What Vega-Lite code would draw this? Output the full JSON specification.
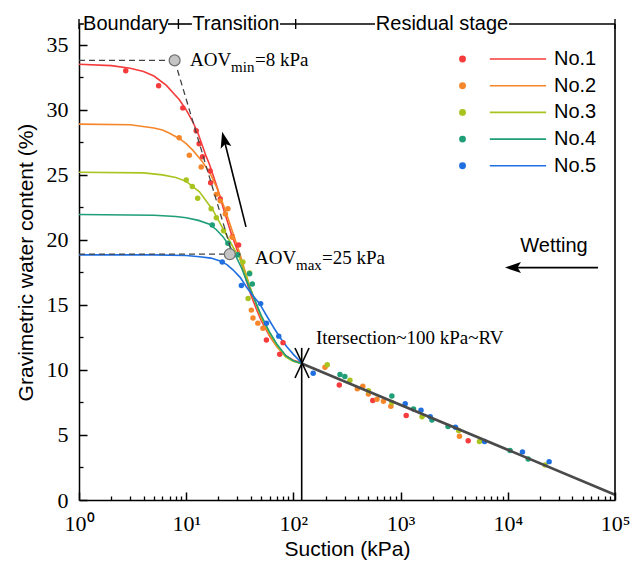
{
  "$schema": "https://vega.github.io/schema/vega-lite/v6.json",
  "width": 536,
  "height": 476,
  "autosize": "none",
  "padding": {"left": 79, "top": 24, "right": 26, "bottom": 67},
  "background": "white",
  "config": {"view": {"stroke": null}},
  "datasets": {
    "curves": [
      {"series":"No.1","s":1,"w":33.5},{"series":"No.1","s":2,"w":33.4},{"series":"No.1","s":3,"w":33.2},{"series":"No.1","s":4,"w":32.95},{"series":"No.1","s":5,"w":32.6},{"series":"No.1","s":6.5,"w":31.9},{"series":"No.1","s":8.6,"w":30.8},{"series":"No.1","s":10,"w":30.0},{"series":"No.1","s":11.5,"w":29.1},{"series":"No.1","s":13,"w":28.1},{"series":"No.1","s":15.4,"w":26.4},{"series":"No.1","s":16.5,"w":25.8},{"series":"No.1","s":19.7,"w":23.9},{"series":"No.1","s":23,"w":22.0},{"series":"No.1","s":26.3,"w":20.5},{"series":"No.1","s":31.5,"w":18.7},{"series":"No.1","s":36,"w":17.0},{"series":"No.1","s":40,"w":15.8},{"series":"No.1","s":45,"w":14.7},{"series":"No.1","s":50,"w":13.8},{"series":"No.1","s":60,"w":12.6},{"series":"No.1","s":70,"w":11.8},{"series":"No.1","s":85,"w":11.1},{"series":"No.1","s":100,"w":10.75},{"series":"No.1","s":119,"w":10.55},
      {"series":"No.2","s":1,"w":28.9},{"series":"No.2","s":3,"w":28.85},{"series":"No.2","s":5,"w":28.6},{"series":"No.2","s":6,"w":28.45},{"series":"No.2","s":7,"w":28.2},{"series":"No.2","s":8.6,"w":27.8},{"series":"No.2","s":10,"w":27.4},{"series":"No.2","s":11.5,"w":26.9},{"series":"No.2","s":14.2,"w":26.0},{"series":"No.2","s":17,"w":25.0},{"series":"No.2","s":19.1,"w":24.1},{"series":"No.2","s":22,"w":22.8},{"series":"No.2","s":25.4,"w":21.3},{"series":"No.2","s":31.5,"w":19.0},{"series":"No.2","s":36,"w":17.4},{"series":"No.2","s":40,"w":16.2},{"series":"No.2","s":50,"w":14.0},{"series":"No.2","s":60,"w":12.7},{"series":"No.2","s":70,"w":11.8},{"series":"No.2","s":85,"w":11.0},{"series":"No.2","s":100,"w":10.7},{"series":"No.2","s":119,"w":10.5},
      {"series":"No.3","s":1,"w":25.2},{"series":"No.3","s":4,"w":25.15},{"series":"No.3","s":6,"w":25.0},{"series":"No.3","s":8,"w":24.8},{"series":"No.3","s":10,"w":24.5},{"series":"No.3","s":13.3,"w":23.7},{"series":"No.3","s":17.7,"w":22.3},{"series":"No.3","s":20,"w":21.5},{"series":"No.3","s":23.6,"w":20.4},{"series":"No.3","s":28,"w":19.3},{"series":"No.3","s":31.5,"w":18.6},{"series":"No.3","s":36,"w":17.3},{"series":"No.3","s":40,"w":16.2},{"series":"No.3","s":50,"w":14.1},{"series":"No.3","s":60,"w":12.8},{"series":"No.3","s":70,"w":11.9},{"series":"No.3","s":85,"w":11.0},{"series":"No.3","s":100,"w":10.65},{"series":"No.3","s":119,"w":10.5},
      {"series":"No.4","s":1,"w":21.95},{"series":"No.4","s":5,"w":21.9},{"series":"No.4","s":8,"w":21.8},{"series":"No.4","s":10,"w":21.7},{"series":"No.4","s":13,"w":21.5},{"series":"No.4","s":16.5,"w":21.2},{"series":"No.4","s":19,"w":20.8},{"series":"No.4","s":22,"w":20.25},{"series":"No.4","s":25.5,"w":19.5},{"series":"No.4","s":29.3,"w":18.7},{"series":"No.4","s":33,"w":17.8},{"series":"No.4","s":36,"w":17.0},{"series":"No.4","s":40,"w":16.1},{"series":"No.4","s":50,"w":14.2},{"series":"No.4","s":60,"w":12.9},{"series":"No.4","s":70,"w":12.0},{"series":"No.4","s":85,"w":11.1},{"series":"No.4","s":100,"w":10.7},{"series":"No.4","s":119,"w":10.5},
      {"series":"No.5","s":1,"w":18.85},{"series":"No.5","s":5,"w":18.85},{"series":"No.5","s":10,"w":18.8},{"series":"No.5","s":13.3,"w":18.7},{"series":"No.5","s":17,"w":18.6},{"series":"No.5","s":20.4,"w":18.4},{"series":"No.5","s":24,"w":18.1},{"series":"No.5","s":27.3,"w":17.7},{"series":"No.5","s":32,"w":17.1},{"series":"No.5","s":36.3,"w":16.4},{"series":"No.5","s":42,"w":15.7},{"series":"No.5","s":48.4,"w":15.1},{"series":"No.5","s":55,"w":14.3},{"series":"No.5","s":65,"w":13.3},{"series":"No.5","s":75,"w":12.5},{"series":"No.5","s":86.5,"w":11.8},{"series":"No.5","s":100,"w":11.2},{"series":"No.5","s":119,"w":10.55}
    ],
    "pts": [
      {"series":"No.1","s":2.73,"w":33.0},{"series":"No.1","s":5.53,"w":31.85},{"series":"No.1","s":9.3,"w":30.15},{"series":"No.1","s":12.4,"w":28.4},{"series":"No.1","s":13.2,"w":27.4},{"series":"No.1","s":14.2,"w":26.4},{"series":"No.1","s":16.7,"w":25.3},{"series":"No.1","s":16.9,"w":24.4},{"series":"No.1","s":20.8,"w":23.15},{"series":"No.1","s":26.9,"w":20.25},{"series":"No.1","s":30.8,"w":19.6},{"series":"No.1","s":56,"w":12.3},{"series":"No.1","s":80,"w":12.1},{"series":"No.1","s":74.5,"w":11.2},{"series":"No.1","s":268,"w":8.85},{"series":"No.1","s":550,"w":7.65},{"series":"No.1","s":1128,"w":6.5},{"series":"No.1","s":4270,"w":4.55},
      {"series":"No.2","s":8.6,"w":27.85},{"series":"No.2","s":10.7,"w":26.5},{"series":"No.2","s":13.8,"w":25.6},{"series":"No.2","s":19.1,"w":23.5},{"series":"No.2","s":20.8,"w":23.0},{"series":"No.2","s":24.5,"w":22.4},{"series":"No.2","s":23.2,"w":22.0},{"series":"No.2","s":27,"w":20.2},{"series":"No.2","s":40.5,"w":14.6},{"series":"No.2","s":42,"w":14.0},{"series":"No.2","s":46.6,"w":13.6},{"series":"No.2","s":52,"w":13.2},{"series":"No.2","s":197,"w":10.2},{"series":"No.2","s":395,"w":8.55},{"series":"No.2","s":444,"w":8.75},{"series":"No.2","s":501,"w":8.15},{"series":"No.2","s":602,"w":7.75},{"series":"No.2","s":692,"w":7.6},{"series":"No.2","s":811,"w":7.2},{"series":"No.2","s":3540,"w":4.9},
      {"series":"No.3","s":10,"w":24.6},{"series":"No.3","s":11.4,"w":24.1},{"series":"No.3","s":12.8,"w":23.2},{"series":"No.3","s":17.1,"w":22.4},{"series":"No.3","s":19.1,"w":21.7},{"series":"No.3","s":22.3,"w":20.7},{"series":"No.3","s":33.8,"w":18.3},{"series":"No.3","s":37.8,"w":15.5},{"series":"No.3","s":39,"w":17.45},{"series":"No.3","s":207,"w":10.4},{"series":"No.3","s":337,"w":9.2},{"series":"No.3","s":501,"w":8.4},{"series":"No.3","s":829,"w":7.5},{"series":"No.3","s":1585,"w":6.4},{"series":"No.3","s":3480,"w":5.35},{"series":"No.3","s":5440,"w":4.5},{"series":"No.3","s":22300,"w":2.7},
      {"series":"No.4","s":17.5,"w":21.15},{"series":"No.4","s":24.5,"w":19.75},{"series":"No.4","s":30.3,"w":18.85},{"series":"No.4","s":39,"w":17.4},{"series":"No.4","s":41.4,"w":16.6},{"series":"No.4","s":272,"w":9.65},{"series":"No.4","s":302,"w":9.5},{"series":"No.4","s":829,"w":8.0},{"series":"No.4","s":1320,"w":7.0},{"series":"No.4","s":1960,"w":6.15},{"series":"No.4","s":2770,"w":5.65},{"series":"No.4","s":10500,"w":3.8},{"series":"No.4","s":15500,"w":3.15},
      {"series":"No.5","s":21.7,"w":18.3},{"series":"No.5","s":32.7,"w":16.5},{"series":"No.5","s":49.5,"w":15.1},{"series":"No.5","s":56,"w":13.6},{"series":"No.5","s":73,"w":12.6},{"series":"No.5","s":153,"w":9.75},{"series":"No.5","s":1104,"w":7.4},{"series":"No.5","s":1550,"w":6.9},{"series":"No.5","s":1890,"w":6.4},{"series":"No.5","s":3250,"w":5.6},{"series":"No.5","s":6070,"w":4.5},{"series":"No.5","s":13700,"w":3.7},{"series":"No.5","s":24300,"w":2.95}
    ],
    "fit": [{"s":119.5,"w":10.5},{"s":100000,"w":0.4}],
    "dashed": [
      {"seg":"a","s":1,"w":33.8},{"seg":"a","s":7.8,"w":33.8},
      {"seg":"b","s":7.8,"w":33.8},{"seg":"b","s":27,"w":18.9},
      {"seg":"c","s":1,"w":18.9},{"seg":"c","s":32,"w":18.9}
    ],
    "aov": [{"s":7.8,"w":33.8},{"s":25.5,"w":18.9}],
    "rules": [
      {"s":36.1,"w":21.0,"s2":22.8,"w2":27.56},
      {"s":69400,"w":17.87,"s2":11670,"w2":17.87},
      {"s":119.5,"w":0,"s2":119.5,"w2":11.7},
      {"s":103.5,"w":11.69,"s2":140,"w2":9.38},
      {"s":140,"w":11.69,"s2":103.5,"w2":9.38},
      {"s":1,"w":36.6,"s2":1.11,"w2":36.6},
      {"s":6.76,"w":36.6,"s2":11.3,"w2":36.6},
      {"s":75,"w":36.6,"s2":577,"w2":36.6},
      {"s":10260,"w":36.6,"s2":100000,"w2":36.6},
      {"s":100000,"w":0,"s2":100000,"w2":36.6}
    ],
    "heads": [{"name":"aov","s":22.8,"w":27.56},{"name":"wet","s":11670,"w":17.87}],
    "topticks": [{"s":1,"w":36.6},{"s":8.46,"w":36.6},{"s":105,"w":36.6},{"s":100000,"w":36.6}],
    "serif": [
      {"s":10.85,"w":33.85,"t":"AOV"},{"s":43.8,"w":33.85,"t":"=8 kPa"},
      {"s":43.8,"w":18.6,"t":"AOV"},{"s":184.9,"w":18.6,"t":"=25 kPa"},
      {"s":162.5,"w":12.46,"t":"Itersection~100 kPa~RV"}
    ],
    "subs": [{"s":26.2,"w":33.3,"t":"min"},{"s":105.7,"w":18.1,"t":"max"}],
    "sans": [
      {"s":2.74,"w":36.6,"t":"Boundary"},{"s":29.1,"w":36.6,"t":"Transition"},
      {"s":2432,"w":36.6,"t":"Residual stage"},{"s":26980,"w":19.5,"t":"Wetting"}
    ]
  },
  "resolve": {"axis": {"x": "independent", "y": "independent"}},
  "layer": [
    {
      "data": {"name": "curves"},
      "mark": {"type": "line", "strokeWidth": 1.6},
      "encoding": {
        "x": {"field": "s", "type": "quantitative",
          "scale": {"type": "log", "domain": [1, 100000], "nice": false},
          "axis": {"orient": "bottom", "values": [1, 10, 100, 1000, 10000, 100000],
            "labelExpr": "'10' + ['⁰','¹','²','³','⁴','⁵'][round(log(datum.value)/LN10)]",
            "tickSize": -8, "tickWidth": 1.5, "tickColor": "black",
            "domainWidth": 1.5, "domainColor": "black", "grid": false,
            "labelFont": "Liberation Serif", "labelFontSize": 22, "labelColor": "black",
            "labelFlush": false, "labelOverlap": false, "labelPadding": 21,
            "title": "Suction (kPa)", "titleFont": "Liberation Sans", "titleFontSize": 21,
            "titleFontWeight": "normal", "titleColor": "black", "titlePadding": 4}},
        "y": {"field": "w", "type": "quantitative",
          "scale": {"domain": [0, 36.6], "nice": false, "zero": false},
          "axis": {"orient": "left", "values": [0, 5, 10, 15, 20, 25, 30, 35],
            "tickSize": -8, "tickWidth": 1.5, "tickColor": "black",
            "domainWidth": 1.5, "domainColor": "black", "grid": false,
            "labelFont": "Liberation Serif", "labelFontSize": 22, "labelColor": "black",
            "labelFlush": false, "labelOverlap": false, "labelPadding": 19,
            "title": "Gravimetric water content (%)", "titleFont": "Liberation Sans", "titleFontSize": 21,
            "titleFontWeight": "normal", "titleColor": "black", "titlePadding": 10}},
        "color": {"field": "series", "type": "nominal",
          "scale": {"domain": ["No.1", "No.2", "No.3", "No.4", "No.5"],
            "range": ["#f53b3b", "#f5862a", "#a9c41f", "#1f9e78", "#1f6fe0"]},
          "legend": {"title": null, "orient": "none", "legendX": 379, "legendY": 25, "padding": 0,
            "symbolType": "M-0.98,0A0.06,0.06,0,1,0,-0.86,0A0.06,0.06,0,1,0,-0.98,0ZM-0.3,0L0.98,0",
            "symbolSize": 7744, "symbolStrokeWidth": 1.6, "symbolOpacity": 1,
            "clipHeight": 20, "rowPadding": 6.7, "labelOffset": 6,
            "labelFont": "Liberation Sans", "labelFontSize": 20, "labelColor": "black",
            "encode": {"symbols": {"update": {
              "fill": {"scale": "color", "field": "value"},
              "stroke": {"scale": "color", "field": "value"},
              "size": {"value": 7744},
              "opacity": {"value": 1},
              "strokeWidth": {"value": 1.6},
              "shape": {"value": "M-0.98,0A0.06,0.06,0,1,0,-0.86,0A0.06,0.06,0,1,0,-0.98,0ZM-0.3,0L0.98,0"}}}}}
        }
      }
    },
    {
      "data": {"name": "pts"},
      "mark": {"type": "point", "filled": true, "size": 30, "opacity": 1},
      "encoding": {
        "x": {"field": "s", "type": "quantitative",
          "scale": {"type": "log", "domain": [1, 100000], "nice": false},
          "axis": {"orient": "bottom", "values": [2,3,4,5,6,7,8,9,20,30,40,50,60,70,80,90,200,300,400,500,600,700,800,900,2000,3000,4000,5000,6000,7000,8000,9000,20000,30000,40000,50000,60000,70000,80000,90000],
            "labels": false, "domain": false, "grid": false, "title": null,
            "tickSize": -4, "tickWidth": 1.3, "tickColor": "black"}},
        "y": {"field": "w", "type": "quantitative",
          "scale": {"domain": [0, 36.6], "nice": false, "zero": false},
          "axis": {"orient": "left", "values": [2.5, 7.5, 12.5, 17.5, 22.5, 27.5, 32.5],
            "labels": false, "domain": false, "grid": false, "title": null,
            "tickSize": -4, "tickWidth": 1.3, "tickColor": "black"}},
        "color": {"field": "series", "type": "nominal",
          "scale": {"domain": ["No.1", "No.2", "No.3", "No.4", "No.5"],
            "range": ["#f53b3b", "#f5862a", "#a9c41f", "#1f9e78", "#1f6fe0"]}}
      }
    },
    {
      "data": {"name": "fit"},
      "mark": {"type": "line", "color": "#4a4a4a", "strokeWidth": 2.6},
      "encoding": {
        "x": {"field": "s", "type": "quantitative", "axis": null},
        "y": {"field": "w", "type": "quantitative", "axis": null}
      }
    },
    {
      "data": {"name": "dashed"},
      "mark": {"type": "line", "color": "#444444", "strokeWidth": 1.3, "strokeDash": [6, 4]},
      "encoding": {
        "x": {"field": "s", "type": "quantitative", "axis": null},
        "y": {"field": "w", "type": "quantitative", "axis": null},
        "detail": {"field": "seg"}
      }
    },
    {
      "data": {"name": "aov"},
      "mark": {"type": "point", "filled": true, "size": 120, "fill": "#c4c4c4", "stroke": "#707070", "strokeWidth": 1.2, "opacity": 1},
      "encoding": {
        "x": {"field": "s", "type": "quantitative", "axis": null},
        "y": {"field": "w", "type": "quantitative", "axis": null}
      }
    },
    {
      "data": {"name": "rules"},
      "mark": {"type": "rule", "color": "black", "strokeWidth": 1.6},
      "encoding": {
        "x": {"field": "s", "type": "quantitative", "axis": null},
        "y": {"field": "w", "type": "quantitative", "axis": null},
        "x2": {"field": "s2"},
        "y2": {"field": "w2"}
      }
    },
    {
      "data": {"name": "heads"},
      "transform": [{"filter": "datum.name == 'aov'"}],
      "mark": {"type": "point", "filled": true, "color": "black", "opacity": 1, "size": 400, "angle": -14,
        "shape": "M0,-1L0.55,0.6L0,0.25L-0.55,0.6Z"},
      "encoding": {
        "x": {"field": "s", "type": "quantitative", "axis": null},
        "y": {"field": "w", "type": "quantitative", "axis": null}
      }
    },
    {
      "data": {"name": "heads"},
      "transform": [{"filter": "datum.name == 'wet'"}],
      "mark": {"type": "point", "filled": true, "color": "black", "opacity": 1, "size": 400, "angle": -90,
        "shape": "M0,-1L0.55,0.6L0,0.25L-0.55,0.6Z"},
      "encoding": {
        "x": {"field": "s", "type": "quantitative", "axis": null},
        "y": {"field": "w", "type": "quantitative", "axis": null}
      }
    },
    {
      "data": {"name": "topticks"},
      "mark": {"type": "point", "filled": false, "color": "black", "opacity": 1, "size": 100, "strokeWidth": 1.4, "shape": "M0,-1L0,1"},
      "encoding": {
        "x": {"field": "s", "type": "quantitative", "axis": null},
        "y": {"field": "w", "type": "quantitative", "axis": null}
      }
    },
    {
      "data": {"name": "serif"},
      "mark": {"type": "text", "align": "left", "baseline": "middle", "font": "Liberation Serif", "fontSize": 19, "color": "black"},
      "encoding": {
        "x": {"field": "s", "type": "quantitative", "axis": null},
        "y": {"field": "w", "type": "quantitative", "axis": null},
        "text": {"field": "t"}
      }
    },
    {
      "data": {"name": "subs"},
      "mark": {"type": "text", "align": "left", "baseline": "middle", "font": "Liberation Serif", "fontSize": 15, "color": "black"},
      "encoding": {
        "x": {"field": "s", "type": "quantitative", "axis": null},
        "y": {"field": "w", "type": "quantitative", "axis": null},
        "text": {"field": "t"}
      }
    },
    {
      "data": {"name": "sans"},
      "mark": {"type": "text", "align": "center", "baseline": "middle", "font": "Liberation Sans", "fontSize": 20, "color": "black"},
      "encoding": {
        "x": {"field": "s", "type": "quantitative", "axis": null},
        "y": {"field": "w", "type": "quantitative", "axis": null},
        "text": {"field": "t"}
      }
    }
  ]
}
